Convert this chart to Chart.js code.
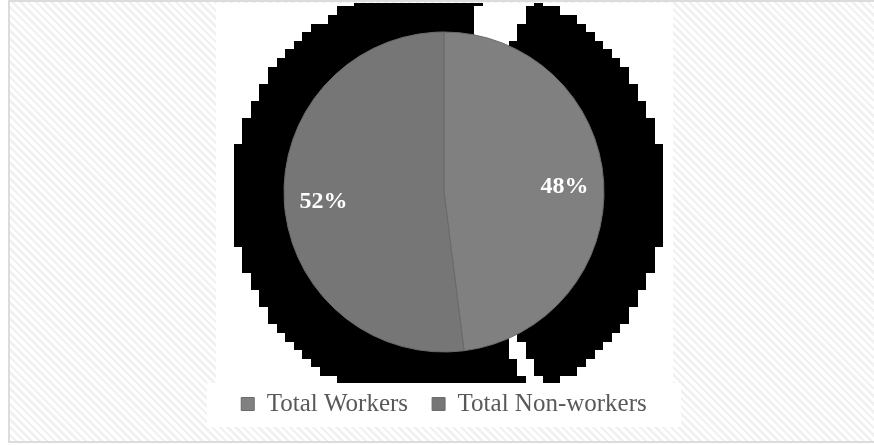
<!DOCTYPE html>
<html>
<head>
<meta charset="utf-8">
<script src="https://cdn.jsdelivr.net/npm/chart.js@4.4.0/dist/chart.umd.min.js"></script>
<style>
  html, body { margin: 0; padding: 0; background: #fff; }
  body { width: 874px; height: 445px; position: relative; overflow: hidden; }
  #frame {
    position: absolute; left: 8px; top: 0; width: 880px; height: 439px;
    border: 2px solid #dcdcdc;
    background: repeating-linear-gradient(45deg, #ffffff 0 3px, #f1f1f1 3px 5.5px);
  }
  #plot { position: absolute; left: 216px; top: 3px; width: 457px; height: 380px; background: #fff; overflow: hidden; }
  #legendBox { position: absolute; left: 207px; top: 383px; width: 474px; height: 44px; background: #fff; }
  #shadow { position: absolute; left: 8.5px; top: -30.6px; image-rendering: pixelated; }
  #main { position: absolute; left: 207px; top: 3px; }
</style>
</head>
<body>
<div id="frame"></div>
<div id="plot"><canvas id="shadow" width="52" height="52" style="width:447px;height:447px"></canvas></div>
<div id="legendBox"></div>
<canvas id="main" width="474" height="424" style="width:474px;height:424px"></canvas>
<script>
const categories = ['Total Workers', 'Total Non-workers'];
const shares = [48, 52];
const sliceColors = ['#808080', '#767676'];

// black blocky backdrop behind the pie: two pieces and two gaps, degrees clockwise from 23°
const backdropAngles = [130.4, 4.9, 210.7, 14];
const backdropColors = ['#000', 'rgba(0,0,0,0)', '#000', 'rgba(0,0,0,0)'];

// snap the tiny canvas to pure black / transparent so it scales up as hard blocks
const hardEdges = {
  id: 'hardEdges',
  afterDraw(chart) {
    const { ctx, canvas } = chart;
    const img = ctx.getImageData(0, 0, canvas.width, canvas.height);
    const d = img.data;
    for (let i = 0; i < d.length; i += 4) {
      const on = d[i + 3] >= 128;
      d[i] = d[i + 1] = d[i + 2] = 0;
      d[i + 3] = on ? 255 : 0;
    }
    ctx.putImageData(img, 0, 0);
  },
};

new Chart(document.getElementById('shadow'), {
  type: 'pie',
  data: {
    labels: ['a', 'b', 'c', 'd'],
    datasets: [{ data: backdropAngles, backgroundColor: backdropColors, borderWidth: 0 }],
  },
  options: {
    responsive: false,
    devicePixelRatio: 1,
    animation: false,
    rotation: 23,
    layout: { padding: 0.75 },
    plugins: { legend: { display: false }, tooltip: { enabled: false } },
  },
  plugins: [hardEdges],
});

const pctLabels = {
  id: 'pctLabels',
  afterDatasetsDraw(chart) {
    const { ctx } = chart;
    const meta = chart.getDatasetMeta(0);
    ctx.save();
    ctx.font = 'bold 24px "Liberation Serif"';
    ctx.fillStyle = '#ffffff';
    ctx.textAlign = 'center';
    ctx.textBaseline = 'middle';
    meta.data.forEach((arc, i) => {
      const p = arc.getProps(['x', 'y', 'startAngle', 'endAngle', 'outerRadius'], true);
      const mid = (p.startAngle + p.endAngle) / 2;
      const r = p.outerRadius * 0.755;
      ctx.fillText(shares[i] + '%', p.x + Math.cos(mid) * r, p.y + Math.sin(mid) * r + 2);
    });
    ctx.restore();
  },
};

new Chart(document.getElementById('main'), {
  type: 'pie',
  data: {
    labels: categories,
    datasets: [
      {
        data: shares,
        backgroundColor: sliceColors,
        borderColor: '#6b6b6b',
        borderWidth: 1,
        radius: 160,
      },
    ],
  },
  options: {
    responsive: false,
    devicePixelRatio: 1,
    animation: false,
    layout: { padding: { top: 13.5, bottom: 0.5 } },
    plugins: {
      tooltip: { enabled: false },
      legend: {
        position: 'bottom',
        labels: {
          boxWidth: 13,
          boxHeight: 13,
          padding: 24,
          color: '#595959',
          font: { family: 'Liberation Serif', size: 25 },
        },
      },
    },
  },
  plugins: [pctLabels],
});
</script>
</body>
</html>
